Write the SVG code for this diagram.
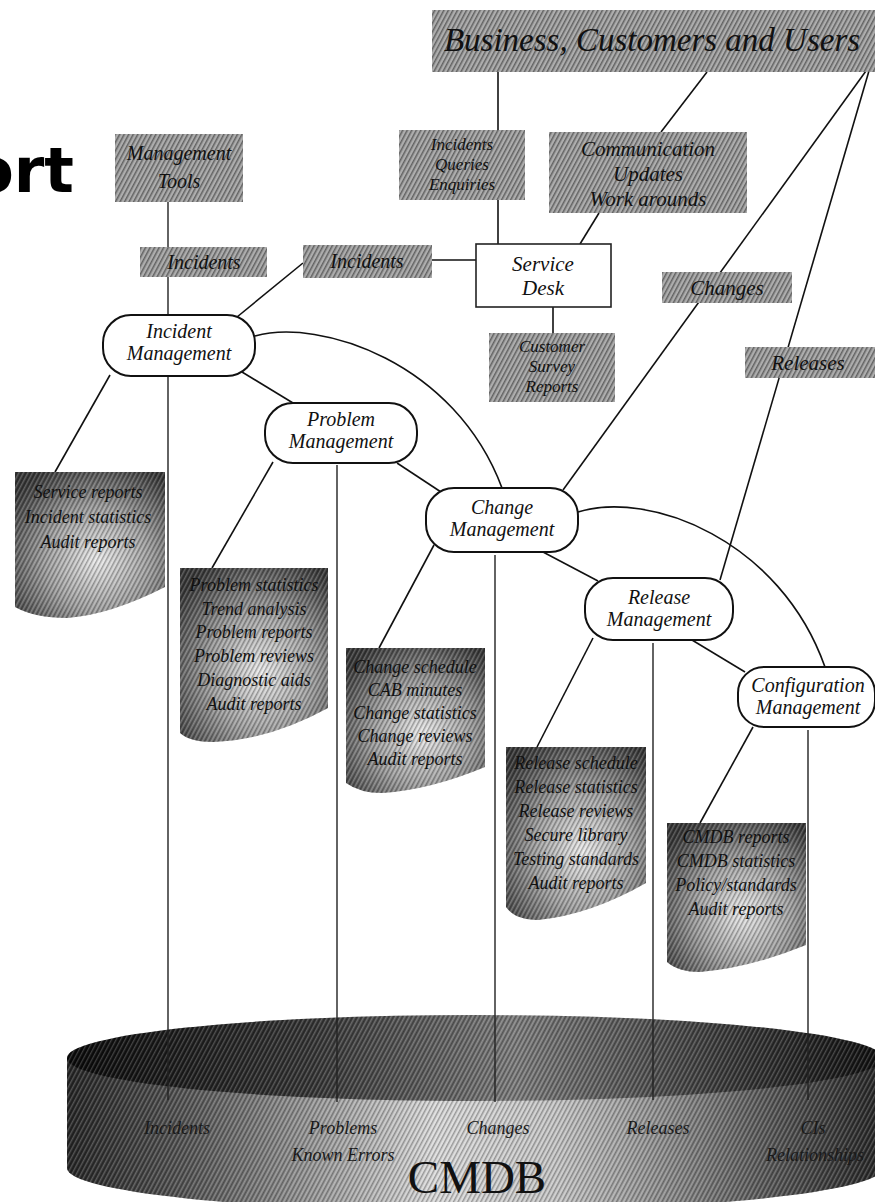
<svg xmlns="http://www.w3.org/2000/svg" width="875" height="1202" viewBox="0 0 875 1202">
<defs>
<pattern id="hatch" width="4" height="8" patternUnits="userSpaceOnUse" patternTransform="rotate(28)">
<rect width="4" height="8" fill="#adadad"/>
<rect width="1.5" height="8" fill="#626262"/>
</pattern>
<pattern id="hatch2" width="4" height="8" patternUnits="userSpaceOnUse" patternTransform="rotate(28)">
<rect width="1.4" height="8" fill="#000" fill-opacity="0.3"/>
<rect x="2.2" width="1" height="8" fill="#fff" fill-opacity="0.25"/>
</pattern>
<radialGradient id="docg" cx="0.55" cy="0.6" r="0.7">
<stop offset="0" stop-color="#ececec"/>
<stop offset="0.5" stop-color="#a0a0a0"/>
<stop offset="1" stop-color="#383838"/>
</radialGradient>
<linearGradient id="bodyg" x1="0" y1="0" x2="1" y2="0">
<stop offset="0" stop-color="#262626"/>
<stop offset="0.15" stop-color="#595959"/>
<stop offset="0.45" stop-color="#dcdcdc"/>
<stop offset="0.6" stop-color="#c8c8c8"/>
<stop offset="0.85" stop-color="#5e5e5e"/>
<stop offset="1" stop-color="#262626"/>
</linearGradient>
<linearGradient id="topg" x1="0" y1="0" x2="1" y2="0">
<stop offset="0" stop-color="#080808"/>
<stop offset="0.3" stop-color="#363636"/>
<stop offset="0.55" stop-color="#7e7e7e"/>
<stop offset="0.8" stop-color="#3c3c3c"/>
<stop offset="1" stop-color="#0e0e0e"/>
</linearGradient>
</defs>
<style>
.box{fill:url(#hatch)}
.doc{fill:url(#docg)}
.ov{fill:url(#hatch2)}
.pill{fill:#fff;stroke:#111;stroke-width:2}
.t{font-family:"Liberation Serif","Times New Roman",serif;font-style:italic;fill:#111;text-anchor:middle}
.bt{font-size:20px}
.st{font-size:17px}
.nt{font-size:20px}
.dt{font-size:18px}
.ct{font-size:18px;fill:#1a1a1a}
.ln{stroke:#111;stroke-width:1.6;fill:none}
.vl{stroke:#222;stroke-width:1.4;fill:none}
</style>

<text x="74" y="192" font-family="'DejaVu Sans',Verdana,sans-serif" font-weight="bold" font-size="62" text-anchor="end" fill="#000">ort</text>

<g id="cmdb">
<path d="M67,1058 L67,1168 A408 43 0 0 0 883,1168 L883,1058 Z" fill="url(#bodyg)"/>
<path d="M67,1058 L67,1168 A408 43 0 0 0 883,1168 L883,1058 Z" class="ov"/>
<ellipse cx="475" cy="1058" rx="408" ry="43" fill="url(#topg)"/>
<ellipse cx="475" cy="1058" rx="408" ry="43" class="ov"/>
</g>

<g id="connectors">
<line class="ln" x1="498" y1="72" x2="498" y2="130"/>
<line class="ln" x1="498" y1="200" x2="498" y2="244"/>
<line class="ln" x1="707" y1="72" x2="661" y2="132"/>
<line class="ln" x1="599" y1="213" x2="580" y2="244"/>
<line class="ln" x1="432" y1="260" x2="476" y2="260"/>
<line class="ln" x1="553" y1="307" x2="553" y2="333"/>
<line class="ln" x1="871" y1="64" x2="563" y2="490"/>
<line class="ln" x1="871" y1="64" x2="720" y2="580"/>
<line class="vl" x1="168" y1="202" x2="168" y2="247"/>
<line class="vl" x1="168" y1="277" x2="168" y2="315"/>
<line class="ln" x1="237" y1="317" x2="303" y2="263"/>
<path class="ln" d="M255,336 C320,318 455,362 502,488"/>
<path class="ln" d="M578,512 C650,490 780,540 825,667"/>
<line class="ln" x1="242" y1="372" x2="293" y2="403"/>
<line class="ln" x1="397" y1="463" x2="441" y2="492"/>
<line class="ln" x1="543" y1="552" x2="598" y2="581"/>
<line class="ln" x1="692" y1="640" x2="745" y2="672"/>
<line class="ln" x1="110" y1="375" x2="55" y2="472"/>
<line class="ln" x1="273" y1="462" x2="212" y2="568"/>
<line class="ln" x1="434" y1="545" x2="379" y2="648"/>
<line class="ln" x1="593" y1="638" x2="537" y2="747"/>
<line class="ln" x1="753" y1="727" x2="700" y2="823"/>
<line class="vl" x1="168" y1="376" x2="168" y2="1100"/>
<line class="vl" x1="337" y1="465" x2="337" y2="1102"/>
<line class="vl" x1="495" y1="555" x2="495" y2="1102"/>
<line class="vl" x1="653" y1="643" x2="653" y2="1100"/>
<line class="vl" x1="808" y1="730" x2="808" y2="1100"/>
</g>

<g id="business">
<rect class="box" x="432" y="10" width="450" height="62"/>
<text class="t" x="652" y="51" font-size="33">Business, Customers and Users</text>
</g>
<g id="mgmt-tools">
<rect class="box" x="115" y="134" width="128" height="68"/>
<text class="t bt" x="179" y="160">Management</text>
<text class="t bt" x="179" y="188">Tools</text>
</g>
<g id="incidents-left">
<rect class="box" x="140" y="247" width="127" height="30"/>
<text class="t bt" x="204" y="269">Incidents</text>
</g>
<g id="incidents-queries">
<rect class="box" x="399" y="130" width="126" height="70"/>
<text class="t st" x="462" y="150">Incidents</text>
<text class="t st" x="462" y="170">Queries</text>
<text class="t st" x="462" y="190">Enquiries</text>
</g>
<g id="communication">
<rect class="box" x="549" y="132" width="198" height="81"/>
<text class="t" font-size="21" x="648" y="156">Communication</text>
<text class="t" font-size="21" x="648" y="181">Updates</text>
<text class="t" font-size="21" x="648" y="206">Work arounds</text>
</g>
<g id="incidents-mid">
<rect class="box" x="303" y="245" width="129" height="33"/>
<text class="t bt" x="367" y="268">Incidents</text>
</g>
<g id="service-desk">
<rect x="476" y="244" width="135" height="63" fill="#fff" stroke="#222" stroke-width="1.6"/>
<text class="t" font-size="21" x="543" y="271">Service</text>
<text class="t" font-size="21" x="543" y="295">Desk</text>
</g>
<g id="customer-survey">
<rect class="box" x="489" y="333" width="126" height="69"/>
<text class="t st" x="552" y="352">Customer</text>
<text class="t st" x="552" y="372">Survey</text>
<text class="t st" x="552" y="392">Reports</text>
</g>
<g id="changes-box">
<rect class="box" x="662" y="272" width="130" height="31"/>
<text class="t" font-size="21" x="727" y="295">Changes</text>
</g>
<g id="releases-box">
<rect class="box" x="745" y="347" width="135" height="31"/>
<text class="t" font-size="21" x="808" y="370">Releases</text>
</g>

<g id="incident-management">
<rect class="pill" x="103" y="315" width="152" height="61" rx="28"/>
<text class="t nt" x="179" y="338">Incident</text>
<text class="t nt" x="179" y="360">Management</text>
</g>
<g id="problem-management">
<rect class="pill" x="265" y="403" width="152" height="60" rx="28"/>
<text class="t nt" x="341" y="426">Problem</text>
<text class="t nt" x="341" y="448">Management</text>
</g>
<g id="change-management">
<rect class="pill" x="426" y="488" width="152" height="64" rx="28"/>
<text class="t nt" x="502" y="514">Change</text>
<text class="t nt" x="502" y="536">Management</text>
</g>
<g id="release-management">
<rect class="pill" x="585" y="578" width="148" height="62" rx="28"/>
<text class="t nt" x="659" y="604">Release</text>
<text class="t nt" x="659" y="626">Management</text>
</g>
<g id="configuration-management">
<rect class="pill" x="738" y="667" width="137" height="60" rx="26"/>
<text class="t nt" x="808" y="692">Configuration</text>
<text class="t nt" x="808" y="714">Management</text>
</g>

<g id="doc-incident">
<path class="doc" d="M15,472 H165 V587 Q110,615 67,618 Q35,618 15,607 Z"/>
<path class="ov" d="M15,472 H165 V587 Q110,615 67,618 Q35,618 15,607 Z"/>
<text class="t dt" x="88" y="498">Service reports</text>
<text class="t dt" x="88" y="523">Incident statistics</text>
<text class="t dt" x="88" y="548">Audit reports</text>
</g>
<g id="doc-problem">
<path class="doc" d="M180,568 H328 V708 Q270,740 213,742 Q190,742 180,733 Z"/>
<path class="ov" d="M180,568 H328 V708 Q270,740 213,742 Q190,742 180,733 Z"/>
<text class="t dt" x="254" y="591">Problem statistics</text>
<text class="t dt" x="254" y="615">Trend analysis</text>
<text class="t dt" x="254" y="638">Problem reports</text>
<text class="t dt" x="254" y="662">Problem reviews</text>
<text class="t dt" x="254" y="686">Diagnostic aids</text>
<text class="t dt" x="254" y="710">Audit reports</text>
</g>
<g id="doc-change">
<path class="doc" d="M346,648 H485 V767 Q430,790 382,793 Q360,793 346,783 Z"/>
<path class="ov" d="M346,648 H485 V767 Q430,790 382,793 Q360,793 346,783 Z"/>
<text class="t dt" x="415" y="673">Change schedule</text>
<text class="t dt" x="415" y="696">CAB minutes</text>
<text class="t dt" x="415" y="719">Change statistics</text>
<text class="t dt" x="415" y="742">Change reviews</text>
<text class="t dt" x="415" y="765">Audit reports</text>
</g>
<g id="doc-release">
<path class="doc" d="M506,747 H646 V883 Q590,915 538,920 Q515,920 506,907 Z"/>
<path class="ov" d="M506,747 H646 V883 Q590,915 538,920 Q515,920 506,907 Z"/>
<text class="t dt" x="576" y="769">Release schedule</text>
<text class="t dt" x="576" y="793">Release statistics</text>
<text class="t dt" x="576" y="817">Release reviews</text>
<text class="t dt" x="576" y="841">Secure library</text>
<text class="t dt" x="576" y="865">Testing standards</text>
<text class="t dt" x="576" y="889">Audit reports</text>
</g>
<g id="doc-configuration">
<path class="doc" d="M667,823 H806 V945 Q750,968 700,972 Q678,972 667,962 Z"/>
<path class="ov" d="M667,823 H806 V945 Q750,968 700,972 Q678,972 667,962 Z"/>
<text class="t dt" x="736" y="843">CMDB reports</text>
<text class="t dt" x="736" y="867">CMDB statistics</text>
<text class="t dt" x="736" y="891">Policy/standards</text>
<text class="t dt" x="736" y="915">Audit reports</text>
</g>

<g id="cmdb-labels">
<text class="t ct" x="177" y="1134">Incidents</text>
<text class="t ct" x="343" y="1134">Problems</text>
<text class="t ct" x="343" y="1161">Known Errors</text>
<text class="t ct" x="498" y="1134">Changes</text>
<text class="t ct" x="658" y="1134">Releases</text>
<text class="t ct" x="813" y="1134">CIs</text>
<text class="t ct" x="815" y="1161">Relationships</text>
<text x="477" y="1193" font-family="'Liberation Serif','Times New Roman',serif" font-size="47" text-anchor="middle" fill="#111">CMDB</text>
</g>
</svg>
